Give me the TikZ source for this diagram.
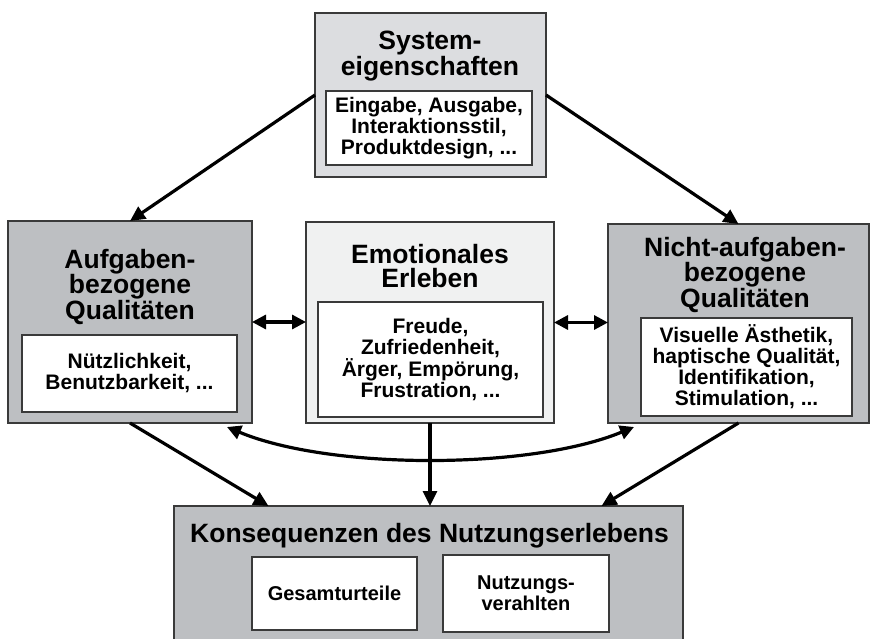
\documentclass[tikz,border=0pt]{standalone}
\usepackage{fontspec}
\setmainfont{Liberation Sans}
\usetikzlibrary{arrows.meta}
\definecolor{boxgray}{HTML}{BDBFC2}
\definecolor{toplight}{HTML}{DCDDE0}
\definecolor{centerlight}{HTML}{F0F1F1}
\definecolor{edgec}{HTML}{3A3A3A}
\tikzset{
  box/.style={draw=edgec, line width=1.3pt, inner sep=0pt, outer sep=0pt},
  inbox/.style={box, fill=white, align=center, font=\fontsize{21}{21}\selectfont\bfseries},
  inboxsmall/.style={box, fill=white, align=center, font=\fontsize{20}{21}\selectfont\bfseries},
  title/.style={font=\fontsize{26.5}{24}\selectfont\bfseries, align=center, inner sep=0pt},
  arr/.style={line width=3.2pt, -{Triangle[length=15pt,width=14pt]}},
  darr/.style={line width=3.2pt, {Triangle[length=14pt,width=14pt]}-{Triangle[length=14pt,width=14pt]}},
}
\begin{document}
\begin{tikzpicture}[x=1pt,y=-1pt]
\clip (0,0) rectangle (870,639);
\fill[white] (0,0) rectangle (870,639);
% outer boxes
\node[box, fill=toplight, minimum width=231pt, minimum height=164pt] (sys) at (430.5,95) {};
\node[box, fill=boxgray, minimum width=244pt, minimum height=202pt] (left) at (130,322) {};
\node[box, fill=centerlight, minimum width=248pt, minimum height=201pt] (center) at (430,322.5) {};
\node[box, fill=boxgray, minimum width=261pt, minimum height=199pt] (right) at (738.5,323.5) {};
\node[box, fill=boxgray, minimum width=509pt, minimum height=144pt] (bottom) at (428.5,578) {};
% titles
\node[title] (systitle) at (430,56) {System-\\eigenschaften};
\node[title] (lefttitle) at (130,287) {Aufgaben-\\bezogene\\Qualitäten};
\node[title] (centertitle) at (430,266) {Emotionales\\Erleben};
\node[title] (righttitle) at (745,275) {Nicht-aufgaben-\\bezogene\\Qualitäten};
\node[title] (bottomtitle) at (429.5,535.5) {Konsequenzen des Nutzungserlebens};
% inner boxes
\node[inbox, minimum width=206pt, minimum height=74pt] (sysin) at (429,128) {Eingabe, Ausgabe,\\Interaktionsstil,\\Produktdesign, ...};
\node[inbox, minimum width=215pt, minimum height=77pt] (leftin) at (129.5,373.5) {Nützlichkeit,\\Benutzbarkeit, ...};
\node[inbox, minimum width=225pt, minimum height=115pt] (centerin) at (430.5,359.5) {Freude,\\Zufriedenheit,\\Ärger, Empörung,\\Frustration, ...};
\node[inbox, minimum width=211pt, minimum height=98pt] (rightin) at (746.5,367) {Visuelle Ästhetik,\\haptische Qualität,\\Identifikation,\\Stimulation, ...};
\node[inboxsmall, minimum width=165pt, minimum height=73pt] (gesamt) at (334.5,593.5) {Gesamturteile};
\node[inboxsmall, minimum width=166pt, minimum height=77pt] (verhalten) at (526,593.5) {Nutzungs-\\verahlten};
% connectors
\draw[arr] (sys.west) -- (left.north);
\draw[arr] (sys.east) -- (right.north);
\draw[darr] (left.east) -- (left.east -| center.west);
\draw[darr] (center.east) -- (center.east -| right.west);
\coordinate (cL) at ([xshift=-25pt,yshift=-4pt]left.south east);
\coordinate (cR) at ([xshift=26pt,yshift=-4pt]right.south west);
\draw[darr] (cL) .. controls +(103,43) and +(-104,43) .. (cR);
\coordinate (bL) at ([xshift=-160pt]bottom.north);
\coordinate (bR) at ([xshift=173pt]bottom.north);
\draw[arr] (left.south) -- (bL);
\draw[arr] (center.south) -- (center.south |- bottom.north);
\draw[arr] (right.south) -- (bR);
\end{tikzpicture}
\end{document}
